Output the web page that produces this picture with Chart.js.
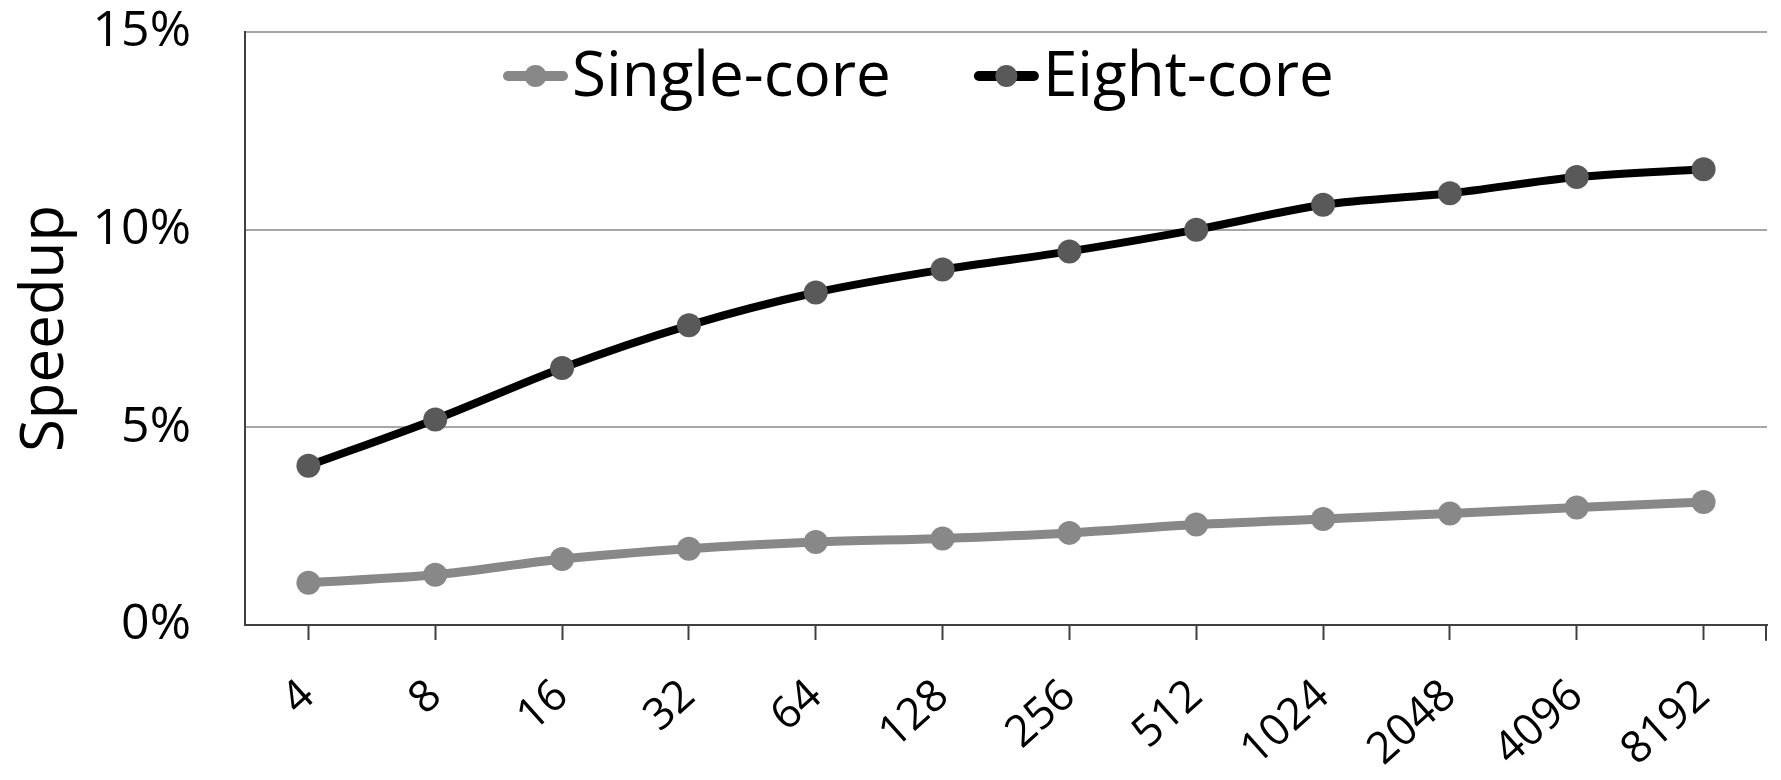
<!DOCTYPE html>
<html>
<head>
<meta charset="utf-8">
<script src="https://cdn.jsdelivr.net/npm/chart.js@4/dist/chart.umd.min.js"></script>
<style>
  html, body { margin: 0; padding: 0; background: #fff; }
  #wrap { width: 1781px; height: 780px; }
</style>
</head>
<body>
<div id="wrap"><canvas id="c" width="1781" height="780"></canvas></div>
<script>
// ---- data ----
const categories = ["4", "8", "16", "32", "64", "128", "256", "512", "1024", "2048", "4096", "8192"];
const singleCore = [1.07, 1.27, 1.67, 1.93, 2.10, 2.19, 2.33, 2.54, 2.68, 2.82, 2.97, 3.11];
const eightCore  = [4.03, 5.20, 6.50, 7.58, 8.41, 8.99, 9.45, 10.00, 10.63, 10.92, 11.33, 11.53];
const seriesNames = ["Single-core", "Eight-core"];
const yTicks = [0, 5, 10, 15];

const FONT = "'Open Sans', 'DejaVu Sans', sans-serif";

// custom legend drawn inside the plot area (as in the reference)
const insideLegend = {
  id: 'insideLegend',
  afterDraw(chart) {
    const ctx = chart.ctx;
    const y = 76;
    let x = 503;
    const lineLen = 65, gapText = 4, gapItem = 83;
    ctx.save();
    ctx.font = "62px " + FONT;
    ctx.textBaseline = 'middle';
    chart.data.datasets.forEach((ds, i) => {
      ctx.strokeStyle = ds.borderColor;
      ctx.lineWidth = 10;
      ctx.lineCap = 'round';
      ctx.beginPath();
      ctx.moveTo(x + 5, y);
      ctx.lineTo(x + lineLen - 5, y);
      ctx.stroke();
      ctx.fillStyle = ds.pointBackgroundColor;
      ctx.beginPath();
      ctx.arc(x + lineLen / 2, y, 11, 0, Math.PI * 2);
      ctx.fill();
      ctx.fillStyle = '#000';
      ctx.textAlign = 'left';
      ctx.fillText(ds.label, x + lineLen + gapText, y + 2);
      x += lineLen + gapText + ctx.measureText(ds.label).width + gapItem;
    });
    // end tick at the right edge of the category axis
    const xs = chart.scales.x;
    ctx.strokeStyle = '#404040';
    ctx.lineWidth = 2;
    ctx.beginPath();
    ctx.moveTo(xs.right - 1, xs.top);
    ctx.lineTo(xs.right - 1, xs.top + 15);
    ctx.stroke();
    ctx.restore();
  }
};

new Chart(document.getElementById('c'), {
  type: 'line',
  data: {
    labels: categories,
    datasets: [
      {
        label: seriesNames[0],
        data: singleCore,
        borderColor: '#888888',
        backgroundColor: '#888888',
        pointBackgroundColor: '#888888',
        pointBorderColor: '#888888',
        borderWidth: 9,
        pointRadius: 12,
        pointBorderWidth: 0,
        tension: 0.3,
        fill: false
      },
      {
        label: seriesNames[1],
        data: eightCore,
        borderColor: '#000000',
        backgroundColor: '#000000',
        pointBackgroundColor: '#595959',
        pointBorderColor: '#595959',
        borderWidth: 8,
        pointRadius: 12,
        pointBorderWidth: 0,
        tension: 0.3,
        fill: false
      }
    ]
  },
  options: {
    responsive: false,
    animation: false,
    devicePixelRatio: 1,
    layout: { padding: { top: 32, right: 14, left: 0, bottom: 0 } },
    plugins: {
      legend: { display: false },
      tooltip: { enabled: false }
    },
    scales: {
      x: {
        type: 'category',
        offset: true,
        grid: {
          display: true,
          drawOnChartArea: false,
          drawTicks: true,
          tickLength: 15,
          tickColor: '#404040',
          tickWidth: 2
        },
        border: { display: true, color: '#404040', width: 2 },
        ticks: {
          color: '#000',
          font: { family: FONT, size: 44 },
          minRotation: 42,
          maxRotation: 42,
          autoSkip: false,
          padding: 30
        },
        afterFit(scale) { scale.height = 155; }
      },
      y: {
        min: 0,
        max: 15,
        afterBuildTicks(scale) { scale.ticks = yTicks.map(v => ({ value: v })); },
        grid: {
          color: '#a6a6a6',
          lineWidth: 2,
          drawTicks: false
        },
        border: { display: true, color: '#404040', width: 2 },
        ticks: {
          color: '#000',
          font: { family: FONT, size: 50 },
          padding: 54,
          callback: v => v + '%'
        },
        title: {
          display: true,
          text: 'Speedup',
          color: '#000',
          font: { family: FONT, size: 60 },
          padding: { top: 10, bottom: 0 }
        },
        afterFit(scale) {
          scale.width = 245;
          scale.paddingTop = 0;
          scale.paddingBottom = 0;
        }
      }
    }
  },
  plugins: [insideLegend]
});
</script>
</body>
</html>
